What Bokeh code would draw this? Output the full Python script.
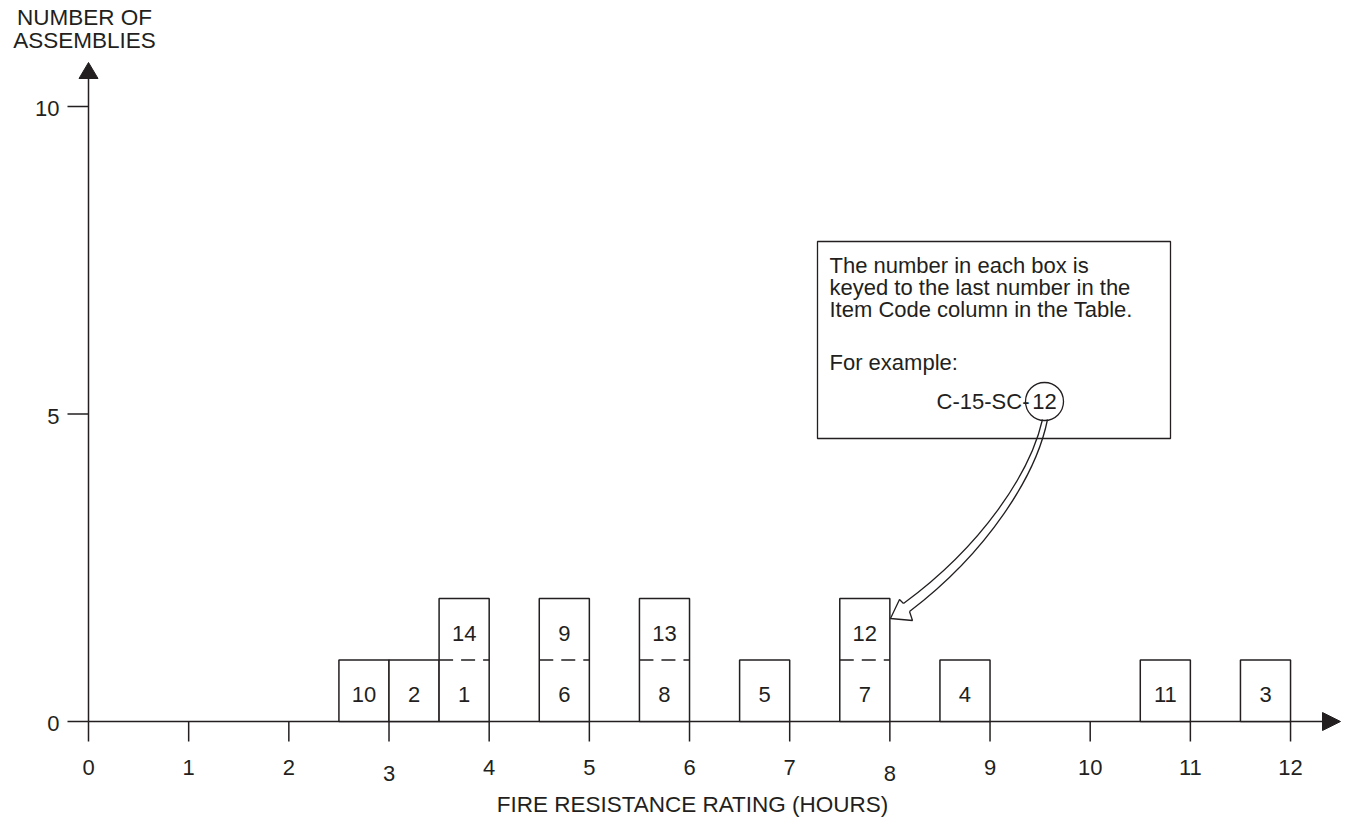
from bokeh.plotting import figure
from bokeh.models import Range1d
from bokeh.embed import file_html
from bokeh.resources import INLINE
from bokeh.core.properties import value

# ---------------- data ----------------
item_numbers = [10, 2, 1, 14, 6, 9, 8, 13, 5, 7, 12, 4, 11, 3]
fire_ratings = [3.0, 3.5, 4.0, 4.0, 5.0, 5.0, 6.0, 6.0, 7.0, 8.0, 8.0, 9.0, 11.0, 12.0]
x_ticks = [0, 1, 2, 3, 4, 5, 6, 7, 8, 9, 10, 11, 12]
x_tick_labels = ["0", "1", "2", "3", "4", "5", "6", "7", "8", "9", "10", "11", "12"]
y_ticks = [0, 5, 10]
y_tick_labels = ["0", "5", "10"]
box_width = 0.5  # hours covered by each box (a box ends at its rating)
x_title = "FIRE RESISTANCE RATING (HOURS)"
y_title = ["NUMBER OF", "ASSEMBLIES"]
callout_lines = ["The number in each box is",
                 "keyed to the last number in the",
                 "Item Code column in the Table.",
                 "For example:"]
example_code = "C-15-SC-"
example_item = "12"

# ---------------- layout constants (screen pixels) ----------------
FONT = "Liberation Sans"
INK = "#231f20"
W, H = 1344, 817
X0, XS = 88.0, 100.17    # px of x=0, px per hour
Y0, YS = 721.0, 61.5     # px of y=0, px per assembly


def X(px):
    return (px - X0) / XS


def Y(py):
    return (Y0 - py) / YS


def dx(n):
    return n / XS


def dy(n):
    return n / YS


p = figure(width=W, height=H, output_backend="svg", toolbar_location=None,
           x_range=Range1d(X(0), X(W)), y_range=Range1d(Y(H), Y(0)),
           x_axis_type=None, y_axis_type=None,
           min_border_left=0, min_border_right=0, min_border_top=0,
           min_border_bottom=0)
p.outline_line_color = None
p.grid.visible = False
p.background_fill_color = "white"
p.border_fill_color = "white"

TXT = dict(text_font=value(FONT), text_color=INK)

# ---------------- axes (drawn on the data scales) ----------------
x_tip = X(1340)
y_tip = Y(62)
# axis lines
p.segment(x0=[0, 0], y0=[0, 0], x1=[x_tip - dx(16), 0], y1=[0, y_tip - dy(14)],
          line_color=INK, line_width=1.5)
# arrow heads
p.patch(x=[x_tip, x_tip - dx(18), x_tip - dx(18)], y=[0, dy(9), -dy(9)],
        fill_color=INK, line_color=INK, line_width=1)
p.patch(x=[0, -dx(9.5), dx(9.5)], y=[y_tip, y_tip - dy(16), y_tip - dy(16)],
        fill_color=INK, line_color=INK, line_width=1)
# x ticks + labels
p.segment(x0=x_ticks, y0=[0] * len(x_ticks), x1=x_ticks,
          y1=[-dy(20)] * len(x_ticks), line_color=INK, line_width=1.5)
x_label_y = [-dy(52) if t in (3, 8) else -dy(46) for t in x_ticks]
p.text(x=x_ticks, y=x_label_y, text=x_tick_labels, text_align="center",
       text_baseline="middle", text_font_size="22px", **TXT)
# y ticks + labels
p.segment(x0=[-dx(21)] * len(y_ticks), y0=y_ticks, x1=[0] * len(y_ticks),
          y1=y_ticks, line_color=INK, line_width=1.5)
p.text(x=[-dx(29)] * len(y_ticks), y=y_ticks, text=y_tick_labels,
       text_align="right", text_baseline="middle", y_offset=2,
       text_font_size="22px", **TXT)
# axis titles
p.text(x=[X(84), X(84)], y=[Y(17), Y(40)], text=y_title, text_align="center",
       text_baseline="middle", text_font_size="22.5px", **TXT)
p.text(x=[X(692)], y=[Y(804)], text=[x_title], text_align="center",
       text_baseline="middle", text_font_size="22.5px", **TXT)

# ---------------- boxes ----------------
levels = []
counts = {}
for r in fire_ratings:
    levels.append(counts.get(r, 0))
    counts[r] = counts.get(r, 0) + 1

cols = sorted(counts)
p.quad(left=[c - box_width for c in cols], right=cols,
       bottom=[0] * len(cols), top=[counts[c] for c in cols],
       fill_color="white", line_color=INK, line_width=1.5)

sep_x0, sep_x1, sep_y = [], [], []
for c in cols:
    for k in range(1, counts[c]):
        sep_x0.append(c - box_width)
        sep_x1.append(c)
        sep_y.append(k)
p.segment(x0=sep_x0, y0=sep_y, x1=sep_x1, y1=sep_y, line_color=INK,
          line_width=1.5, line_dash="14 8")

p.text(x=[r - box_width / 2 for r in fire_ratings],
       y=[lv + 0.5 for lv in levels],
       text=[str(n) for n in item_numbers], text_align="center",
       text_baseline="middle", y_offset=4, text_font_size="22px", **TXT)

# ---------------- callout ----------------
p.quad(left=X(817), right=X(1170), top=Y(241), bottom=Y(438),
       fill_color="white", line_color=INK, line_width=1.3)
p.text(x=[X(829)] * 4, y=[Y(265), Y(287), Y(309), Y(362)], text=callout_lines,
       text_align="left", text_baseline="middle", text_font_size="22px", **TXT)
p.text(x=[X(1029)], y=[Y(401)], text=[example_code], text_align="right",
       text_baseline="middle", text_font_size="22px", **TXT)
p.text(x=[X(1044)], y=[Y(401)], text=[example_item], text_align="center",
       text_baseline="middle", text_font_size="22px", **TXT)
p.scatter(x=[X(1044)], y=[Y(401)], marker="circle", size=38,
          fill_color=None, line_color=INK, line_width=1.3)

# curved hollow arrow from the example to box 12
p.bezier(x0=[X(1042), X(1047)], y0=[Y(419), Y(419)],
         cx0=[X(1030), X(1036)], cy0=[Y(472), Y(474)],
         cx1=[X(982), X(988)], cy1=[Y(545), Y(551)],
         x1=[X(903), X(909)], y1=[Y(603), Y(611)],
         line_color=INK, line_width=1.3)
p.line(x=[X(903), X(899), X(890), X(912), X(909)],
       y=[Y(603), Y(599), Y(618), Y(620), Y(611)],
       line_color=INK, line_width=1.3)

open("out.html", "w").write(file_html(p, INLINE))
